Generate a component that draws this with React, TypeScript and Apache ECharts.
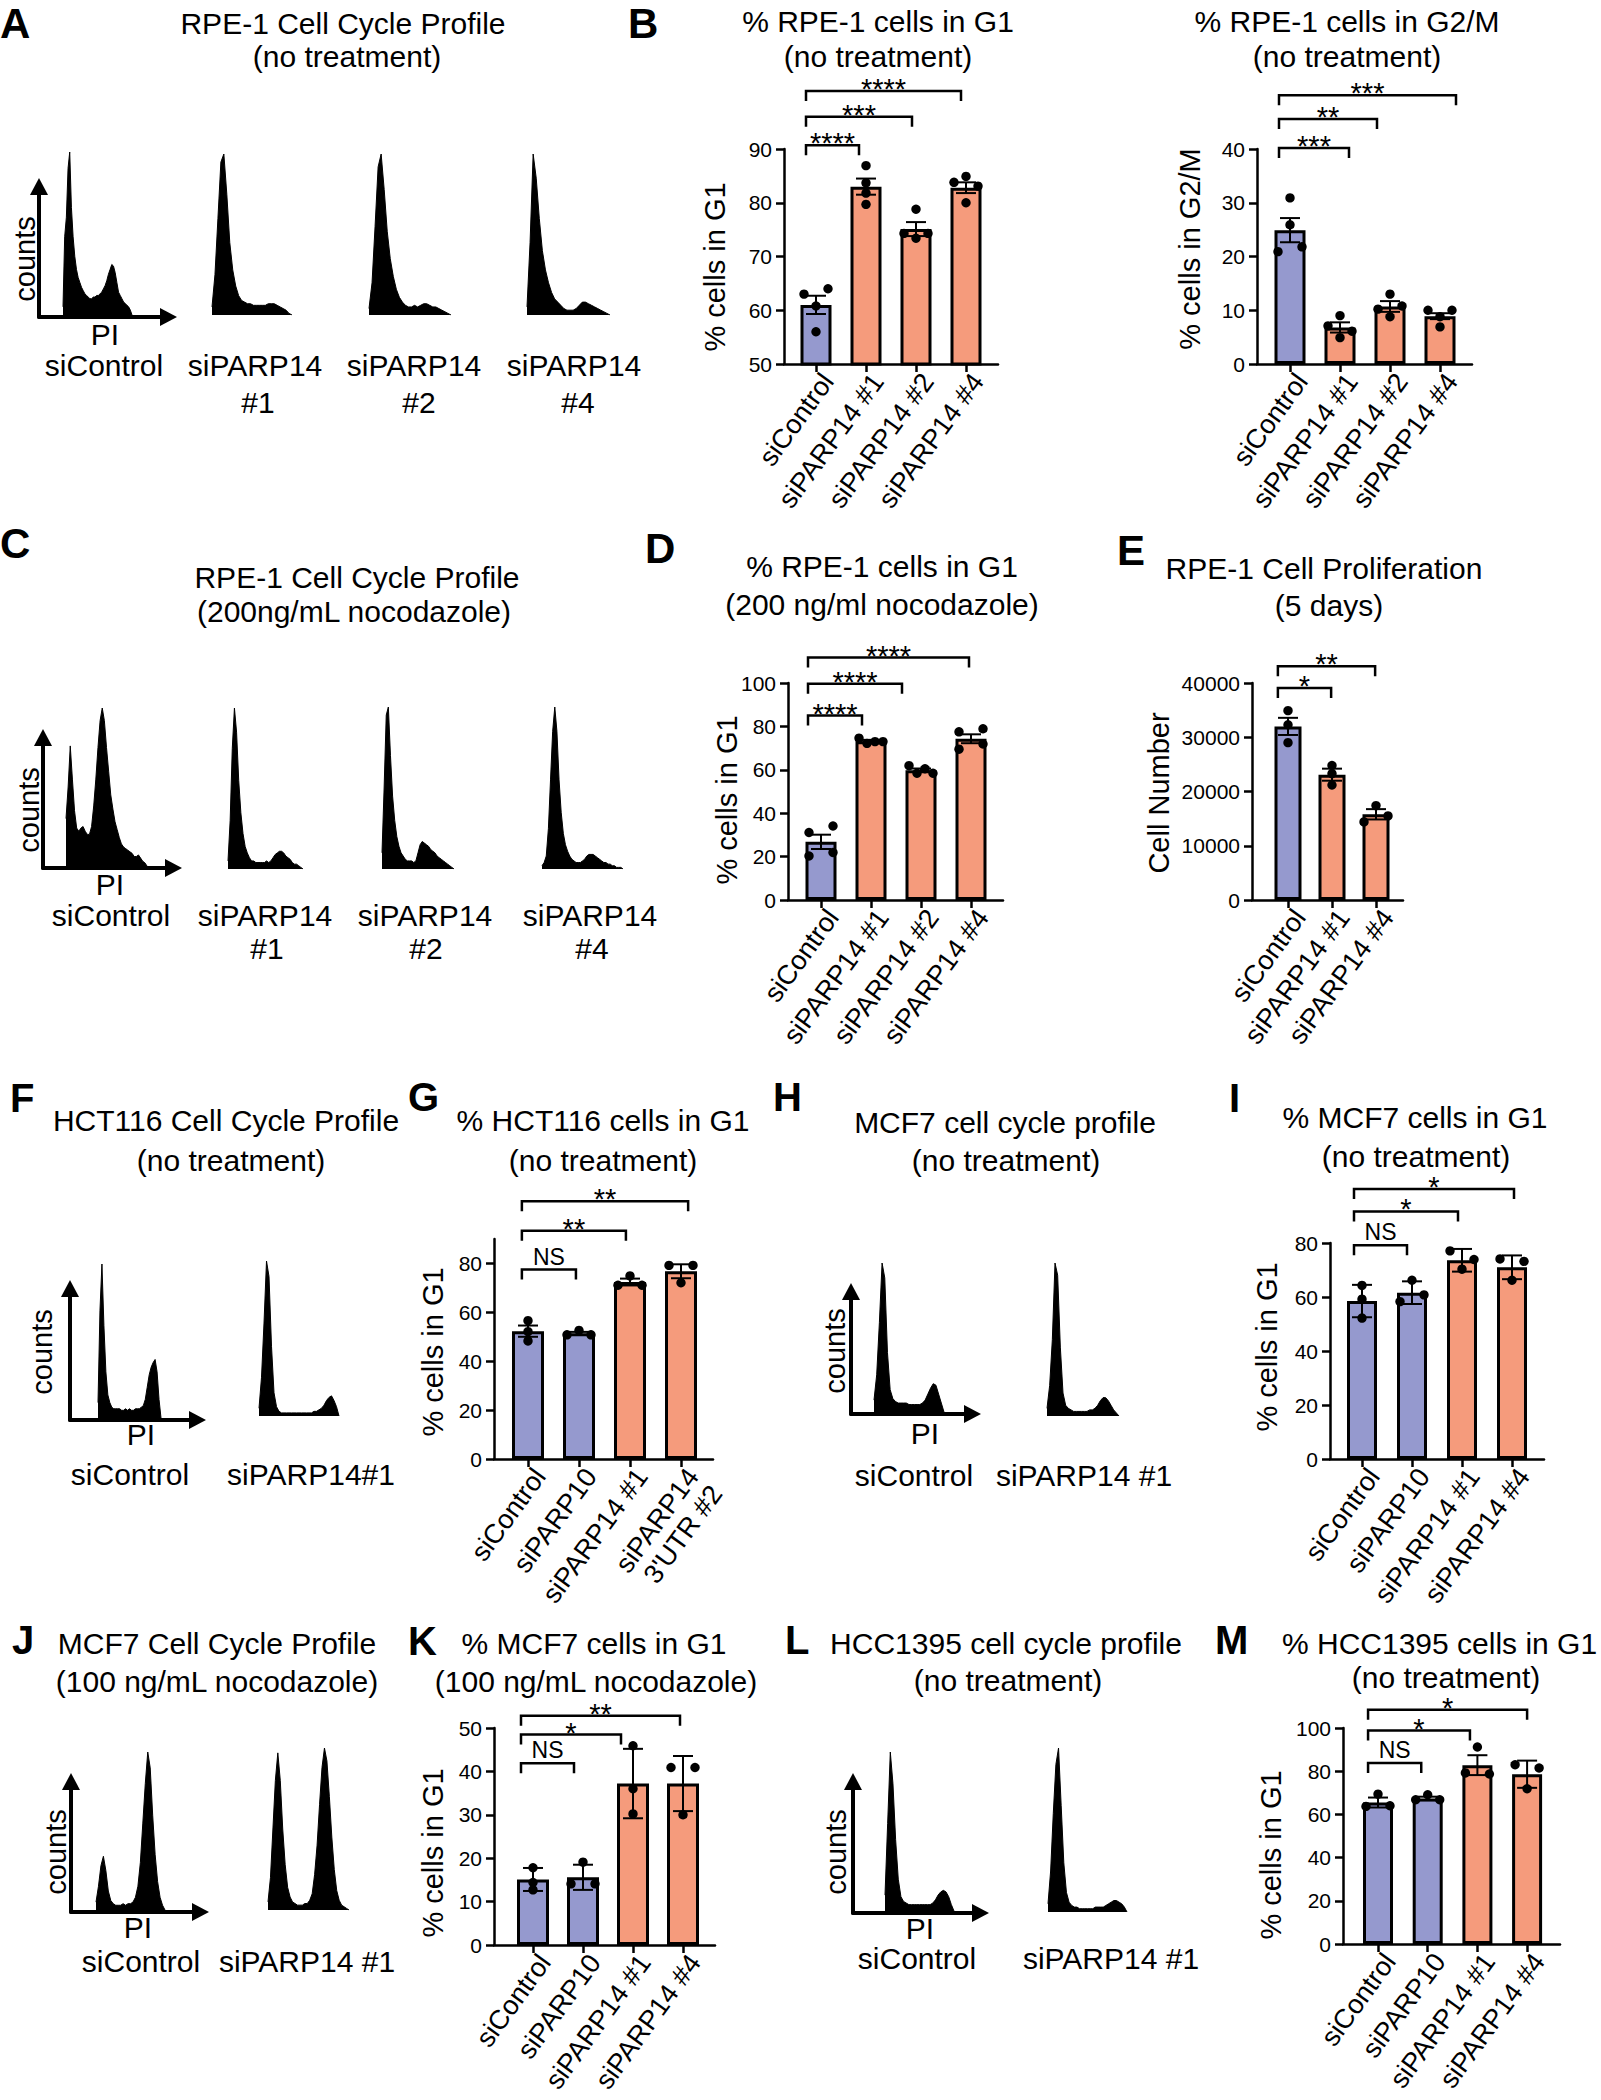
import React, { useEffect, useRef } from "react";
import * as echarts from "echarts";

const FONT = "'Liberation Sans', Arial, Helvetica, sans-serif";
const BLUE = "#9599CE";
const SALMON = "#F59B7C";
const BLACK = "#000000";

// ---------------- histogram data (relative counts) ----------------
const hA_ctrl = [5, 48, 60, 90, 100, 66, 48, 36, 28, 23, 20, 17, 15, 13, 12, 11, 10, 10, 11, 11, 12, 12, 13, 14, 16, 18, 21, 25, 28, 31, 30, 26, 20, 14, 12, 10, 8, 7, 6, 5, 3, 0];
const hA_p1 = [5, 25, 60, 95, 100, 75, 45, 28, 18, 12, 9, 8, 7, 7, 6, 6, 6, 6, 6, 7, 7, 7, 6, 5, 4, 3, 1, 0];
const hA_p2 = [4, 20, 55, 92, 100, 78, 52, 35, 24, 16, 11, 8, 6, 5, 5, 6, 5, 6, 7, 7, 6, 5, 5, 4, 3, 2, 1, 0];
const hA_p4 = [5, 45, 100, 85, 60, 40, 28, 20, 14, 10, 8, 6, 4, 3, 3, 3, 4, 6, 8, 8, 7, 6, 5, 4, 3, 2, 1, 0];
const hC_ctrl = [30, 50, 76, 55, 35, 24, 22, 24, 25, 22, 20, 20, 25, 38, 55, 75, 92, 100, 92, 75, 60, 45, 36, 28, 23, 18, 14, 12, 11, 10, 9, 8, 6, 6, 7, 5, 3, 2, 0];
const hC_p1 = [5, 30, 75, 100, 85, 55, 35, 22, 14, 10, 7, 5, 5, 4, 4, 4, 4, 4, 5, 4, 5, 7, 9, 10, 11, 11, 10, 8, 7, 6, 4, 3, 3, 2, 1, 0];
const hC_p2 = [10, 50, 95, 100, 70, 45, 30, 20, 14, 10, 8, 6, 5, 5, 5, 4, 5, 10, 15, 17, 16, 15, 14, 12, 11, 10, 8, 7, 6, 5, 4, 3, 2, 1, 0];
const hC_p4 = [2, 4, 8, 25, 55, 85, 100, 85, 55, 35, 22, 15, 11, 8, 6, 5, 4, 4, 4, 5, 6, 8, 9, 9, 9, 8, 7, 6, 5, 4, 4, 3, 3, 2, 2, 1, 1, 1, 0];
const hF_ctrl = [10, 70, 100, 60, 30, 15, 10, 7, 6, 6, 6, 6, 5, 5, 6, 5, 6, 5, 5, 6, 6, 6, 7, 8, 12, 20, 28, 33, 36, 38, 30, 12, 0];
const hF_p1 = [5, 25, 60, 100, 90, 45, 15, 6, 3, 2, 2, 2, 2, 2, 2, 2, 2, 2, 2, 2, 2, 2, 3, 3, 4, 5, 7, 10, 12, 13, 10, 6, 0];
const hH_ctrl = [8, 25, 60, 100, 90, 40, 15, 9, 7, 6, 6, 6, 6, 5, 5, 5, 5, 5, 6, 8, 12, 16, 19, 18, 12, 6, 0];
const hH_p1 = [5, 20, 50, 100, 92, 45, 15, 7, 5, 4, 3, 3, 3, 3, 3, 3, 4, 4, 5, 7, 10, 12, 12, 10, 7, 4, 2, 0];
const hJ_ctrl = [5, 15, 28, 34, 25, 12, 6, 4, 3, 3, 3, 4, 3, 4, 4, 5, 8, 15, 30, 55, 80, 100, 90, 60, 35, 18, 8, 3, 0];
const hJ_p1 = [5, 20, 50, 80, 97, 80, 50, 28, 14, 8, 5, 4, 3, 3, 3, 4, 4, 6, 10, 22, 40, 65, 88, 100, 92, 70, 45, 25, 12, 6, 3, 2, 1, 0];
const hL_ctrl = [10, 55, 100, 80, 45, 20, 9, 6, 5, 4, 4, 4, 4, 4, 4, 4, 4, 4, 5, 7, 10, 12, 13, 12, 9, 4, 0];
const hL_p1 = [5, 25, 60, 90, 100, 65, 30, 12, 6, 4, 3, 3, 2, 2, 2, 2, 2, 2, 3, 3, 3, 3, 4, 5, 6, 7, 7, 6, 5, 3, 0];

// ---------------- bar chart data ----------------
const catRPE = ["siControl", "siPARP14 #1", "siPARP14 #2", "siPARP14 #4"];
const catE = ["siControl", "siPARP14 #1", "siPARP14 #4"];
const catG = ["siControl", "siPARP10", "siPARP14 #1", "siPARP14\n3'UTR #2"];
const catMCF = ["siControl", "siPARP10", "siPARP14 #1", "siPARP14 #4"];

// B: % RPE-1 cells in G1 (no treatment)
const bG1Mean = [61.0, 83.0, 75.1, 82.8];
const bG1Err = [1.7, 1.5, 1.3, 1.0];
const bG1Pts = [[63, 64, 60.8, 56], [86.9, 83.7, 81.8, 79.7], [78.8, 74.3, 73.4, 74.3], [83.8, 84.9, 83.1, 80.0]];
const bG1Ticks = [50, 60, 70, 80, 90];
const bG1Br = [[-0.2, 0.86, 90.7], [-0.2, 1.92, 96.0], [-0.2, 2.9, 100.8]];
const bG1BrLab = ["****", "***", "****"];

// B: % RPE-1 cells in G2/M (no treatment)
const bG2Mean = [24.9, 6.8, 10.7, 8.9];
const bG2Err = [2.25, 0.95, 1.0, 0.55];
const bG2Pts = [[30.9, 25.9, 20.9, 21.8], [9.0, 7.1, 4.9, 6.1], [13.0, 10.2, 8.8, 10.8], [10.0, 8.8, 10.0, 6.9]];
const bG2Ticks = [0, 10, 20, 30, 40];
const bG2Br = [[-0.22, 1.18, 40.2], [-0.22, 1.74, 45.6], [-0.22, 3.32, 50.0]];
const bG2BrLab = ["***", "**", "***"];

// D: % RPE-1 cells in G1 (200 ng/ml nocodazole)
const dMean = [26.8, 73.2, 59.8, 74.3];
const dErr = [3.3, 0.6, 0.8, 2.05];
const dPts = [[31.1, 34.1, 20.3, 21.9], [74.6, 72.2, 73.0, 73.0], [61.9, 58.4, 60.5, 58.4], [77.5, 78.9, 69.5, 71.9]];
const dTicks = [0, 20, 40, 60, 80, 100];
const dBr = [[-0.26, 0.82, 85.0], [-0.26, 1.62, 99.7], [-0.26, 2.96, 111.7]];
const dBrLab = ["****", "****", "****"];

// E: RPE-1 Cell Proliferation (5 days)
const eMean = [32000, 23100, 15800];
const eErr = [1580, 1110, 950];
const ePts = [[34900, 32300, 29000], [24800, 23300, 21200], [17400, 14400, 15500]];
const eTicks = [0, 10000, 20000, 30000, 40000];
const eBr = [[-0.23, 0.98, 39100], [-0.23, 1.98, 43100]];
const eBrLab = ["*", "**"];

// G: % HCT116 cells in G1
const gMean = [52.3, 51.4, 72.4, 76.8];
const gErr = [2.3, 0.6, 1.4, 2.85];
const gPts = [[56.6, 52.1, 48.3], [50.8, 52.6, 50.8], [71.1, 74.9, 71.1], [79.2, 79.2, 72.1]];
const gTicks = [0, 20, 40, 60, 80];
const gBr = [[-0.12, 0.94, 77.5], [-0.12, 1.92, 93.4], [-0.12, 3.14, 105.4]];
const gBrLab = ["NS", "**", "**"];

// I: % MCF7 cells in G1 (no treatment)
const iMean = [58.5, 61.6, 73.6, 71.0];
const iErr = [6.0, 4.2, 4.2, 4.4];
const iPts = [[64.3, 59.2, 52.2], [66.2, 58.3, 60.8], [77.1, 70.3, 73.9], [74.1, 66.2, 73.2]];
const iTicks = [0, 20, 40, 60, 80];
const iBr = [[-0.16, 0.9, 79.2], [-0.16, 1.92, 91.7], [-0.16, 3.04, 100]];
const iBrLab = ["NS", "*", "*"];

// K: % MCF7 cells in G1 (100 ng/mL nocodazole)
const kMean = [15.1, 15.6, 37.2, 37.2];
const kErr = [2.65, 2.9, 8.0, 6.35];
const kPts = [[17.8, 14.4, 12.7], [19.1, 14.1, 14.1], [45.9, 36.0, 30.2], [40.9, 40.9, 30.0]];
const kTicks = [0, 10, 20, 30, 40, 50];
const kBr = [[-0.24, 0.82, 41.9], [-0.24, 1.76, 48.5], [-0.24, 2.94, 52.8]];
const kBrLab = ["NS", "*", "**"];

// M: % HCC1395 cells in G1
const mMean = [65.5, 67.4, 82.8, 78.6];
const mErr = [2.3, 0.8, 4.6, 6.3];
const mPts = [[69.4, 63.7, 64.0], [66.8, 69.1, 66.8], [91.2, 79.2, 78.7], [83.0, 81.5, 71.9]];
const mTicks = [0, 20, 40, 60, 80, 100];
const mBr = [[-0.2, 0.87, 83.8], [-0.2, 1.85, 98.8], [-0.2, 3.0, 108.5]];
const mBrLab = ["NS", "*", "*"];

// ---------------- layout (pixel positions / styles) ----------------
type Lay = { yAxisX: number; xEnd: number; c0: number; band: number; top: number; bottom: number; barW: number; swarm: number };

const barPanels: any[] = [
  { cats: catRPE, mean: bG1Mean, err: bG1Err, pts: bG1Pts, br: bG1Br, brLab: bG1BrLab, yMin: 50, yMax: 90, step: 10, ticks: bG1Ticks,
    L: { yAxisX: 784, xEnd: 998, c0: 816, band: 50, top: 149, bottom: 364, barW: 31, swarm: 8 } },
  { cats: catRPE, mean: bG2Mean, err: bG2Err, pts: bG2Pts, br: bG2Br, brLab: bG2BrLab, yMin: 0, yMax: 40, step: 10, ticks: bG2Ticks,
    L: { yAxisX: 1257, xEnd: 1472, c0: 1290, band: 50, top: 149, bottom: 364, barW: 31, swarm: 8 } },
  { cats: catRPE, mean: dMean, err: dErr, pts: dPts, br: dBr, brLab: dBrLab, yMin: 0, yMax: 100, step: 20, ticks: dTicks,
    L: { yAxisX: 788, xEnd: 1003, c0: 821, band: 50, top: 683, bottom: 900, barW: 31, swarm: 8 } },
  { cats: catE, mean: eMean, err: eErr, pts: ePts, br: eBr, brLab: eBrLab, yMin: 0, yMax: 40000, step: 10000, ticks: eTicks,
    L: { yAxisX: 1252, xEnd: 1403, c0: 1288, band: 44, top: 683, bottom: 900, barW: 27, swarm: 7 } },
  { cats: catG, mean: gMean, err: gErr, pts: gPts, br: gBr, brLab: gBrLab, yMin: 0, yMax: 90, step: 20, ticks: gTicks,
    L: { yAxisX: 494, xEnd: 713, c0: 528, band: 51, top: 1239, bottom: 1459, barW: 32, swarm: 8 } },
  { cats: catMCF, mean: iMean, err: iErr, pts: iPts, br: iBr, brLab: iBrLab, yMin: 0, yMax: 80, step: 20, ticks: iTicks,
    L: { yAxisX: 1330, xEnd: 1544, c0: 1362, band: 50, top: 1243, bottom: 1459, barW: 30, swarm: 9 } },
  { cats: catMCF, mean: kMean, err: kErr, pts: kPts, br: kBr, brLab: kBrLab, yMin: 0, yMax: 50, step: 10, ticks: kTicks,
    L: { yAxisX: 494, xEnd: 715, c0: 533, band: 50, top: 1728, bottom: 1945, barW: 32, swarm: 7 } },
  { cats: catMCF, mean: mMean, err: mErr, pts: mPts, br: mBr, brLab: mBrLab, yMin: 0, yMax: 100, step: 20, ticks: mTicks,
    L: { yAxisX: 1343, xEnd: 1560, c0: 1378, band: 49.7, top: 1728, bottom: 1944, barW: 30, swarm: 8 } },
];

// histogram boxes: [left, right, top(peak), bottom(baseline)]
const hists: [number[], number[]][] = [
  [hA_ctrl, [63, 132, 152, 315]], [hA_p1, [212, 292, 154, 315]], [hA_p2, [369, 451, 154, 315]], [hA_p4, [527, 610, 154, 315]],
  [hC_ctrl, [66, 147, 708, 866]], [hC_p1, [228, 303, 708, 869]], [hC_p2, [382, 454, 707, 869]], [hC_p4, [542, 623, 707, 869]],
  [hF_ctrl, [98, 161, 1264, 1418]], [hF_p1, [259, 339, 1261, 1416]],
  [hH_ctrl, [874, 944, 1263, 1412]], [hH_p1, [1047, 1119, 1263, 1416]],
  [hJ_ctrl, [96, 165, 1752, 1910]], [hJ_p1, [268, 349, 1748, 1910]],
  [hL_ctrl, [885, 954, 1752, 1911]], [hL_p1, [1048, 1127, 1748, 1912]],
];

// arrow axes for the control histograms: [originX, originY, tipX, tipY]
const arrowAxes = [
  [39, 317, 177, 178], [43, 868, 182, 729], [70, 1420, 206, 1280],
  [851, 1414, 981, 1283], [71, 1912, 209, 1773], [853, 1913, 989, 1773],
];

const letters: [string, number, number, number][] = [
  ["A", 0, 23, 42], ["B", 628, 23, 42], ["C", 0, 543, 42], ["D", 645, 548, 42], ["E", 1117, 550, 42],
  ["F", 10, 1098, 40], ["G", 408, 1097, 40], ["H", 773, 1097, 40], ["I", 1229, 1098, 40],
  ["J", 12, 1640, 40], ["K", 408, 1641, 40], ["L", 785, 1640, 40], ["M", 1215, 1640, 40],
];

const titles: [string, number, number, string?][] = [
  ["RPE-1 Cell Cycle Profile", 343, 23], ["(no treatment)", 347, 56],
  ["% RPE-1 cells in G1", 878, 21], ["(no treatment)", 878, 56],
  ["% RPE-1 cells in G2/M", 1347, 21], ["(no treatment)", 1347, 56],
  ["RPE-1 Cell Cycle Profile", 357, 577], ["(200ng/mL nocodazole)", 354, 611],
  ["% RPE-1 cells in G1", 882, 566], ["(200 ng/ml nocodazole)", 882, 604],
  ["RPE-1 Cell Proliferation", 1324, 568], ["(5 days)", 1329, 605],
  ["HCT116 Cell Cycle Profile", 226, 1120], ["(no treatment)", 231, 1160],
  ["% HCT116 cells in G1", 603, 1120], ["(no treatment)", 603, 1160],
  ["MCF7 cell cycle profile", 1005, 1122], ["(no treatment)", 1006, 1160],
  ["% MCF7 cells in G1", 1415, 1117], ["(no treatment)", 1416, 1156],
  ["MCF7 Cell Cycle Profile", 217, 1643], ["(100 ng/mL nocodazole)", 217, 1681],
  ["% MCF7 cells in G1", 594, 1643], ["(100 ng/mL nocodazole)", 596, 1681],
  ["HCC1395 cell cycle profile", 1006, 1643], ["(no treatment)", 1008, 1680],
  ["% HCC1395 cells in G1", 1282, 1643, "left"], ["(no treatment)", 1446, 1677],
];

const histLabels: [string, number, number][] = [
  ["PI", 105, 334], ["siControl", 104, 365], ["siPARP14", 255, 365], ["#1", 258, 402], ["siPARP14", 414, 365], ["#2", 419, 402], ["siPARP14", 574, 365], ["#4", 578, 402],
  ["PI", 110, 884], ["siControl", 111, 915], ["siPARP14", 265, 915], ["#1", 267, 948], ["siPARP14", 425, 915], ["#2", 426, 948], ["siPARP14", 590, 915], ["#4", 592, 948],
  ["PI", 141, 1434], ["siControl", 130, 1474], ["siPARP14#1", 311, 1474],
  ["PI", 925, 1433], ["siControl", 914, 1475], ["siPARP14 #1", 1084, 1475],
  ["PI", 138, 1927], ["siControl", 141, 1961], ["siPARP14 #1", 307, 1961],
  ["PI", 920, 1928], ["siControl", 917, 1958], ["siPARP14 #1", 1111, 1958],
];
const countsLabels: [number, number][] = [[25, 259], [29, 810], [42, 1352], [835, 1351], [56, 1852], [836, 1852]];

const yTitles: [string, number, number][] = [
  ["% cells in G1", 715, 267], ["% cells in G2/M", 1190, 249], ["% cells in G1", 727, 800], ["Cell Number", 1159, 793],
  ["% cells in G1", 433, 1352], ["% cells in G1", 1267, 1347], ["% cells in G1", 433, 1853], ["% cells in G1", 1271, 1855],
];

// ---------------- helpers ----------------
function swarmOffsets(vals: number[], pxPerUnit: number, thresh: number): number[] {
  const W = 12;
  const order = vals.map((_, i) => i).sort((a, b) => vals[a] - vals[b]);
  const offs = vals.map(() => 0);
  const clusters: number[][] = [];
  order.forEach((idx, k) => {
    if (k > 0 && (vals[idx] - vals[order[k - 1]]) * pxPerUnit < thresh) clusters[clusters.length - 1].push(idx);
    else clusters.push([idx]);
  });
  clusters.forEach((c) => {
    const ord = [...c].sort((a, b) => a - b);
    const n = ord.length;
    ord.forEach((di, j) => { offs[di] = n === 1 ? 0 : -W + (j * 2 * W) / (n - 1); });
  });
  return offs;
}

function txt(text: string, x: number, y: number, size: number, o: any = {}) {
  const align = o.align || "center";
  return {
    type: "text", x, y, rotation: o.rot || 0, z: 100, silent: true,
    style: {
      text, fontSize: size, fontFamily: FONT, fontWeight: o.bold ? "bold" : "normal", fill: BLACK,
      lineHeight: o.lh || Math.round(size * 0.95),
      align, verticalAlign: "middle", textAlign: align, textVerticalAlign: "middle",
    },
  };
}

function buildOption() {
  const grid: any[] = [], xAxis: any[] = [], yAxis: any[] = [], series: any[] = [], graphic: any[] = [];
  const axLine = { color: BLACK, width: 2.5 };
  const addGrid = (g: any, xa: any, ya: any) => {
    const i = grid.length;
    grid.push({ ...g, containLabel: false });
    xAxis.push({ ...xa, gridIndex: i });
    yAxis.push({ ...ya, gridIndex: i });
    return i;
  };
  const hidden = { show: false };

  // histograms
  hists.forEach(([vals, b]) => {
    const i = addGrid({ left: b[0], top: b[2], width: b[1] - b[0], height: b[3] - b[2] },
      { type: "category", show: false, boundaryGap: false, data: vals.map((_, k) => k) },
      { type: "value", show: false, min: 0, max: 100 });
    series.push({
      type: "line", xAxisIndex: i, yAxisIndex: i, data: vals, symbol: "none", silent: true,
      lineStyle: { color: BLACK, width: 1 }, areaStyle: { color: BLACK, opacity: 1 },
    });
  });

  // arrow axes
  arrowAxes.forEach(([ox, oy, tx, ty]) => {
    const ah = 17;
    const al = { show: true, onZero: false, lineStyle: { color: BLACK, width: 4 }, symbol: ["none", "triangle"], symbolSize: [18, ah] };
    addGrid({ left: ox, top: ty + ah / 2, width: tx - ah / 2 - ox, height: oy - ty - ah / 2 },
      { type: "value", min: 0, max: 1, axisLine: al, axisTick: hidden, axisLabel: hidden, splitLine: hidden },
      { type: "value", min: 0, max: 1, axisLine: al, axisTick: hidden, axisLabel: hidden, splitLine: hidden });
  });

  // bar panels
  barPanels.forEach((p) => {
    const L: Lay = p.L;
    const n = p.cats.length;
    const h = L.bottom - L.top;
    addGrid({ left: L.yAxisX, top: L.top, width: L.xEnd - L.yAxisX, height: h },
      { type: "value", min: 0, max: 1, axisLine: { show: true, onZero: false, lineStyle: axLine }, axisTick: hidden, axisLabel: hidden, splitLine: hidden },
      {
        type: "value", min: p.yMin, max: p.yMax, interval: p.step,
        axisLine: { show: true, onZero: false, lineStyle: axLine },
        axisTick: { show: true, length: 8, lineStyle: axLine, customValues: p.ticks },
        axisLabel: { show: true, customValues: p.ticks, fontSize: 21, fontFamily: FONT, color: BLACK, margin: 12, formatter: (v: number) => String(v) },
        splitLine: hidden,
      });
    const gi = addGrid({ left: L.c0 - L.band / 2, top: L.top, width: L.band * n, height: h },
      {
        type: "category", data: p.cats,
        axisLine: { show: false },
        axisTick: { show: true, alignWithLabel: true, length: 8, lineStyle: axLine },
        axisLabel: { interval: 0, rotate: 54, fontSize: 27, fontFamily: FONT, color: BLACK, margin: 4, lineHeight: 29, verticalAlign: "top", align: "right" },
      },
      { type: "value", min: p.yMin, max: p.yMax, show: false, splitLine: hidden });

    series.push({
      type: "bar", xAxisIndex: gi, yAxisIndex: gi, barWidth: L.barW, z: 2, silent: true,
      data: p.mean.map((v: number, i: number) => ({
        value: v,
        itemStyle: { color: String(p.cats[i]).startsWith("siPARP14") ? SALMON : BLUE, borderColor: BLACK, borderWidth: 3 },
      })),
    });
    series.push({
      type: "custom", xAxisIndex: gi, yAxisIndex: gi, z: 3, silent: true,
      data: p.mean.map((m: number, i: number) => [i, m, p.err[i]]),
      renderItem: (params: any, api: any) => {
        const i = api.value(0), m = api.value(1), e = api.value(2);
        const t = api.coord([i, m + e]);
        const b = api.coord([i, m - e]);
        const st = { stroke: BLACK, lineWidth: 2 };
        const w = 10;
        return {
          type: "group", children: [
            { type: "line", shape: { x1: t[0], y1: t[1], x2: t[0], y2: b[1] }, style: st },
            { type: "line", shape: { x1: t[0] - w, y1: t[1], x2: t[0] + w, y2: t[1] }, style: st },
            { type: "line", shape: { x1: t[0] - w, y1: b[1], x2: t[0] + w, y2: b[1] }, style: st },
          ],
        };
      },
    });
    const ppu = h / (p.yMax - p.yMin);
    const dotData: number[][] = [];
    p.pts.forEach((grp: number[], ci: number) => {
      const offs = swarmOffsets(grp, ppu, L.swarm);
      grp.forEach((v, j) => dotData.push([ci, v, offs[j]]));
    });
    series.push({
      type: "custom", xAxisIndex: gi, yAxisIndex: gi, z: 4, silent: true, data: dotData,
      renderItem: (params: any, api: any) => {
        const c = api.coord([api.value(0), api.value(1)]);
        return { type: "circle", shape: { cx: c[0] + api.value(2), cy: c[1], r: 4.7 }, style: { fill: BLACK } };
      },
    });
    const labs: string[] = p.brLab;
    series.push({
      type: "custom", xAxisIndex: gi, yAxisIndex: gi, z: 4, silent: true, clip: false, data: p.br,
      renderItem: (params: any, api: any) => {
        const from = api.value(0), to = api.value(1), yv = api.value(2);
        const c0 = api.coord([0, yv]);
        const c1 = api.coord([1, yv]);
        const band = c1[0] - c0[0];
        const x1 = c0[0] + from * band, x2 = c0[0] + to * band, y = c0[1];
        const lab = labs[params.dataIndex];
        const ns = lab === "NS";
        return {
          type: "group", children: [
            { type: "polyline", shape: { points: [[x1, y + 10], [x1, y], [x2, y], [x2, y + 10]] }, style: { stroke: BLACK, lineWidth: 2.5, fill: null } },
            {
              type: "text", x: (x1 + x2) / 2, y: y + (ns ? -13 : -2),
              style: {
                text: lab, fontSize: ns ? 23 : 29, lineHeight: ns ? 20 : 14, fontFamily: FONT, fill: BLACK,
                align: "center", verticalAlign: "middle", textAlign: "center", textVerticalAlign: "middle",
              },
            },
          ],
        };
      },
    });
  });

  letters.forEach(([t, x, y, s]) => graphic.push(txt(t, x, y, s, { bold: true, align: "left", lh: s * 0.8 })));
  titles.forEach(([t, x, y, a]) => graphic.push(txt(t, x, y, 30, { align: a || "center", lh: 28 })));
  histLabels.forEach(([t, x, y]) => graphic.push(txt(t, x, y, 30, { lh: 26 })));
  countsLabels.forEach(([x, y]) => graphic.push(txt("counts", x, y, 29, { rot: Math.PI / 2, lh: 24 })));
  yTitles.forEach(([t, x, y]) => graphic.push(txt(t, x, y, 29, { rot: Math.PI / 2, lh: 28 })));

  return {
    animation: false,
    backgroundColor: "#ffffff",
    textStyle: { fontFamily: FONT },
    grid, xAxis, yAxis, series, graphic,
  };
}

export default function App() {
  const ref = useRef<HTMLDivElement>(null);
  useEffect(() => {
    const chart = echarts.init(ref.current as HTMLDivElement, null, { renderer: "svg" });
    chart.setOption(buildOption() as any);
    return () => chart.dispose();
  }, []);
  return (
    <div
      ref={ref}
      style={{ position: "absolute", left: 0, top: 0, width: 1601, height: 2100, background: "#ffffff" }}
    />
  );
}
